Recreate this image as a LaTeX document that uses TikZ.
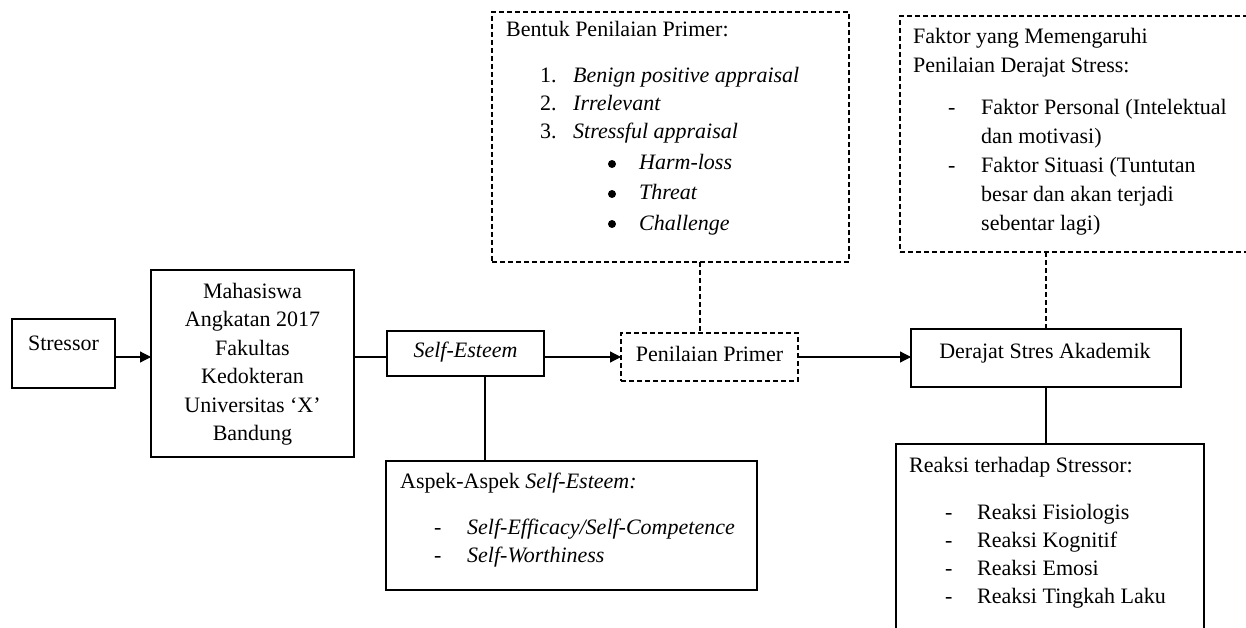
\documentclass[tikz,border=0pt]{standalone}
\usepackage{fontspec}
\setmainfont{Liberation Serif}
\usetikzlibrary{arrows.meta}
\tikzset{
 box/.style={draw=black,line width=1.2pt,inner sep=0pt,outer sep=0pt},
 dbox/.style={box,dash pattern=on 5pt off 3pt},
 txt/.style={font=\fontsize{22}{28.5}\selectfont,inner sep=0pt,anchor=base west},
 ctxt/.style={txt,anchor=base,align=center},
 link/.style={line width=1.2pt},
 arr/.style={link,-{Triangle[length=11pt,width=11pt]}},
 dlink/.style={link,dash pattern=on 5pt off 3pt},
 dot/.style={circle,fill=black,inner sep=0pt,minimum size=8pt},
}
\begin{document}
\begin{tikzpicture}[x=1pt,y=-1pt]
\useasboundingbox (0,0) rectangle (1246,628);
\clip (0,0) rectangle (1246,628);
\fill[white] (0,0) rectangle (1246,628);
% boxes
\node[box,minimum width=103pt,minimum height=69pt] (stressor) at (63.5,353.5) {};
\node[box,minimum width=203pt,minimum height=187pt] (mhs) at (252.5,363.5) {};
\node[box,minimum width=157pt,minimum height=45pt] (se) at (465.5,353.5) {};
\node[box,minimum width=371pt,minimum height=129pt] (aspek) at (571.5,525.5) {};
\node[dbox,minimum width=177pt,minimum height=48pt] (pp) at (709.5,357) {};
\node[dbox,minimum width=357pt,minimum height=250pt] (bentuk) at (670.5,137) {};
\node[box,minimum width=270pt,minimum height=58pt] (das) at (1046,358) {};
\node[box,minimum width=308pt,minimum height=206pt] (reaksi) at (1050,547) {};
\node[dbox,minimum width=360pt,minimum height=236pt] (faktor) at (1080,134) {};
% texts
\node[ctxt] (stressor-t) at (63.5,350) {Stressor};
\node[ctxt] (mhs-t) at (252.5,440.5) {Mahasiswa\\Angkatan 2017\\Fakultas\\Kedokteran\\Universitas ‘X’\\Bandung};
\node[ctxt] (se-t) at (465.5,357) {\textit{Self-Esteem}};
\node[ctxt] (pp-t) at (709.5,361) {Penilaian Primer};
\node[ctxt] (das-t) at (1045,358) {Derajat Stres Akademik};
% aspek
\node[txt] (aspek-t) at (400,488) {Aspek-Aspek \textit{Self-Esteem:}};
\node[txt] (aspek-d1) at (434,534) {-};
\node[txt] (aspek-i1) at (467,534) {\textit{Self-Efficacy/Self-Competence}};
\node[txt] (aspek-d2) at (434,562) {-};
\node[txt] (aspek-i2) at (467,562) {\textit{Self-Worthiness}};
% bentuk
\node[txt] (bentuk-t) at (506,37) {Bentuk Penilaian Primer:};
\node[txt] (bentuk-n1) at (540,83) {1.};
\node[txt] (bentuk-i1) at (573,83) {\textit{Benign positive appraisal}};
\node[txt] (bentuk-n2) at (540,111) {2.};
\node[txt] (bentuk-i2) at (573,111) {\textit{Irrelevant}};
\node[txt] (bentuk-n3) at (540,139) {3.};
\node[txt] (bentuk-i3) at (573,139) {\textit{Stressful appraisal}};
\node[dot] (bul1) at (612,164) {};
\node[txt] (bentuk-s1) at (639,170) {\textit{Harm-loss}};
\node[dot] (bul2) at (612,194) {};
\node[txt] (bentuk-s2) at (639,200) {\textit{Threat}};
\node[dot] (bul3) at (612,224) {};
\node[txt] (bentuk-s3) at (639,230) {\textit{Challenge}};
% faktor
\node[txt] (faktor-t1) at (913,44) {Faktor yang Memengaruhi};
\node[txt] (faktor-t2) at (913,73) {Penilaian Derajat Stress:};
\node[txt] (faktor-d1) at (948,115) {-};
\node[txt] (faktor-i1) at (981,115) {Faktor Personal (Intelektual};
\node[txt] (faktor-i1b) at (981,144) {dan motivasi)};
\node[txt] (faktor-d2) at (948,173) {-};
\node[txt] (faktor-i2) at (981,173) {Faktor Situasi (Tuntutan};
\node[txt] (faktor-i2b) at (981,202) {besar dan akan terjadi};
\node[txt] (faktor-i2c) at (981,231) {sebentar lagi)};
% reaksi
\node[txt] (reaksi-t) at (909,472) {Reaksi terhadap Stressor:};
\node[txt] (reaksi-d1) at (945,519) {-};
\node[txt] (reaksi-i1) at (977,519) {Reaksi Fisiologis};
\node[txt] (reaksi-d2) at (945,547) {-};
\node[txt] (reaksi-i2) at (977,547) {Reaksi Kognitif};
\node[txt] (reaksi-d3) at (945,575) {-};
\node[txt] (reaksi-i3) at (977,575) {Reaksi Emosi};
\node[txt] (reaksi-d4) at (945,603) {-};
\node[txt] (reaksi-i4) at (977,603) {Reaksi Tingkah Laku};
% connectors
\draw[arr] ([yshift=-3.5pt]stressor.east) -- ([yshift=-3.5pt]stressor.east -| mhs.west);
\draw[link] ([yshift=-3.5pt]se.west -| mhs.east) -- ([yshift=-3.5pt]se.west);
\draw[arr] (se.east |- pp.west) -- (pp.west);
\draw[arr] (pp.east) -- (pp.east -| das.west);
\draw[link] ([xshift=19.5pt]se.south) -- ([xshift=19.5pt]se.south |- aspek.north);
\draw[dlink] ([xshift=-9.5pt]pp.north |- bentuk.south) -- ([xshift=-9.5pt]pp.north);
\draw[dlink] (das.north |- faktor.south) -- (das.north);
\draw[link] (das.south) -- (das.south |- reaksi.north);
\end{tikzpicture}
\end{document}
